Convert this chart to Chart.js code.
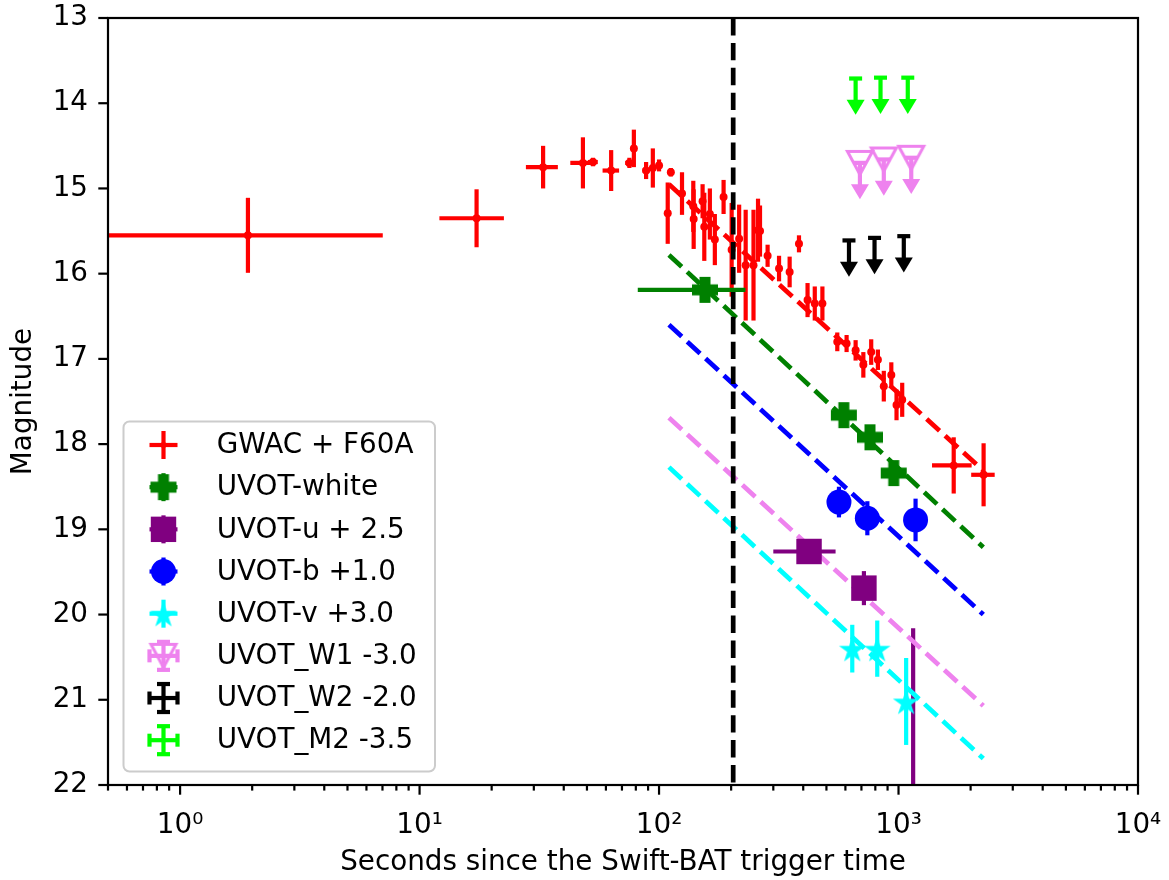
<!DOCTYPE html>
<html>
<head>
<meta charset="utf-8">
<script src="https://cdn.jsdelivr.net/npm/chart.js@4.4.1/dist/chart.umd.min.js"></script>
<style>
html,body{margin:0;padding:0;background:#fff;}
#wrap{width:1169px;height:880px;}
</style>
</head>
<body>
<div id="wrap"><canvas id="c" width="1169" height="880"></canvas></div>
<script>
// ---------------- DATA ----------------
// GWAC + F60A (red): time [s], magnitude, y error, x error
const gwacT    = [1.92, 17.3, 32.8, 48.1, 53, 63.1, 75.2, 78.5, 88.3, 94.2, 100, 112, 108.7, 124.7, 139, 139.5, 152, 154.5, 163, 171, 186, 201, 216, 230, 248, 259, 264, 284, 317, 351, 384, 417, 447, 481, 555, 607, 662, 713, 769, 820, 868, 933, 981, 1036, 1700, 2266];
const gwacMag  = [15.55, 15.35, 14.75, 14.70, 14.69, 14.79, 14.70, 14.53, 14.79, 14.76, 14.73, 14.81, 15.29, 15.06, 15.21, 15.36, 15.15, 15.45, 15.30, 15.60, 15.10, 15.72, 15.59, 15.90, 15.90, 15.49, 15.50, 15.79, 15.94, 15.98, 15.65, 16.31, 16.35, 16.35, 16.80, 16.82, 16.90, 17.07, 16.92, 17.01, 17.32, 17.19, 17.54, 17.48, 18.25, 18.36];
const gwacErr  = [0.44, 0.34, 0.25, 0.30, 0.05, 0.24, 0.06, 0.22, 0.10, 0.23, 0.07, 0.05, 0.36, 0.25, 0.30, 0.35, 0.20, 0.40, 0.30, 0.30, 0.20, 0.55, 0.40, 0.65, 0.65, 0.37, 0.30, 0.13, 0.15, 0.18, 0.10, 0.20, 0.20, 0.20, 0.11, 0.10, 0.12, 0.15, 0.15, 0.12, 0.18, 0.15, 0.18, 0.20, 0.33, 0.37];
const gwacXerr = [5.1, 5.2, 5.0, 5.5, 2.5, 5.0, 3.0, 0, 3.0, 0, 2.0, 0, 0, 0, 0, 0, 0, 0, 0, 0, 0, 0, 0, 0, 0, 0, 0, 0, 0, 0, 0, 0, 0, 0, 0, 0, 0, 0, 0, 0, 0, 0, 0, 0, 320, 255];

// UVOT-white
const whiteT = [155.5, 591, 760, 955];
const whiteMag = [16.19, 17.66, 17.92, 18.34];
const whiteErr = [0.07, 0.08, 0.1, 0.08];
const whiteXerr = [74, 0, 0, 0];

// UVOT-u + 2.5
const uT = [423, 717, 1151];
const uMag = [19.26, 19.69, 23.5];
const uErr = [0.05, 0.2, 3.34];
const uXerr = [123, 0, 0];

// UVOT-b + 1.0
const bT = [564, 741, 1178];
const bMag = [18.68, 18.87, 18.89];
const bErr = [0.18, 0.2, 0.25];

// UVOT-v + 3.0
const vT = [641, 815, 1076];
const vMag = [20.40, 20.40, 21.02];
const vErr = [0.28, 0.33, 0.51];

// Upper limits
const w1T = [690, 868, 1130];
const w1Mag = [14.70, 14.66, 14.64];
const w2T = [621, 794, 1052];
const w2Mag = [15.61, 15.58, 15.56];
const m2T = [662, 841, 1093];
const m2Mag = [13.71, 13.70, 13.70];
const limitLen = 0.25;

// Power-law fits (dashed lines)
const fitT = [110, 2260];
const redFit = [14.95, 18.31];
const greenFit = [15.78, 19.21];
const blueFit = [16.60, 20.00];
const violetFit = [17.69, 21.07];
const cyanFit = [18.27, 21.69];

// BAT trigger reference line
const refT = 204;
const yRange = [13, 22];

// Axis ticks
const xTickValues = [1, 10, 100, 1000, 10000];
const xTickLabels = ['10\u2070', '10\u00B9', '10\u00B2', '10\u00B3', '10\u2074'];
const yTickValues = [13, 14, 15, 16, 17, 18, 19, 20, 21, 22];

const legendLabels = ['GWAC + F60A', 'UVOT-white', 'UVOT-u + 2.5', 'UVOT-b +1.0', 'UVOT-v +3.0', 'UVOT_W1 -3.0', 'UVOT_W2 -2.0', 'UVOT_M2 -3.5'];

// ---------------- STYLE ----------------
const FONT = "'DejaVu Sans', sans-serif";
const FS = 27.8;
const EW = 4.2;   // errorbar width
const CAP = 13;

function mk(size, draw) {
  const c = document.createElement('canvas');
  c.width = size; c.height = size;
  draw(c.getContext('2d'), size / 2);
  return c;
}
const plusP = mk(30, (g, c) => {
  const h = 13, a = 5.5;
  g.fillStyle = 'green';
  g.beginPath();
  g.moveTo(c - a, c - h); g.lineTo(c + a, c - h); g.lineTo(c + a, c - a); g.lineTo(c + h, c - a);
  g.lineTo(c + h, c + a); g.lineTo(c + a, c + a); g.lineTo(c + a, c + h); g.lineTo(c - a, c + h);
  g.lineTo(c - a, c + a); g.lineTo(c - h, c + a); g.lineTo(c - h, c - a); g.lineTo(c - a, c - a);
  g.closePath(); g.fill();
});
const starV = mk(32, (g, c) => {
  g.fillStyle = 'cyan';
  g.beginPath();
  for (let k = 0; k < 10; k++) {
    const r = k % 2 ? 14 * 0.382 : 14;
    const ang = -Math.PI / 2 + k * Math.PI / 5;
    g.lineTo(c + r * Math.cos(ang), c + 1.5 + r * Math.sin(ang));
  }
  g.closePath(); g.fill();
});
const triW1 = mk(32, (g, c) => {
  g.strokeStyle = 'violet'; g.lineWidth = 3; g.lineJoin = 'miter';
  g.beginPath();
  g.moveTo(c - 12.5, c - 11.5); g.lineTo(c + 12.5, c - 11.5); g.lineTo(c, c + 11.5);
  g.closePath(); g.stroke();
});

function pts(T, M) { return T.map((t, i) => ({ x: t, y: M[i] })); }

const dashStyle = { showLine: true, pointRadius: 0, borderWidth: 4.7, borderDash: [17.4, 7.5], fill: false, order: 5, type: 'line' };

const datasets = [
  Object.assign({ data: pts(fitT, redFit), borderColor: 'red' }, dashStyle),
  Object.assign({ data: pts(fitT, greenFit), borderColor: 'green' }, dashStyle),
  Object.assign({ data: pts(fitT, blueFit), borderColor: 'blue' }, dashStyle),
  Object.assign({ data: pts(fitT, violetFit), borderColor: 'violet' }, dashStyle),
  Object.assign({ data: pts(fitT, cyanFit), borderColor: 'cyan' }, dashStyle),
  { label: legendLabels[0], data: pts(gwacT, gwacMag), pointStyle: 'circle', pointRadius: 4, backgroundColor: 'red', borderWidth: 0, order: 2 },
  { label: legendLabels[1], data: pts(whiteT, whiteMag), pointStyle: plusP, pointRadius: 13, order: 2 },
  { label: legendLabels[2], data: pts(uT, uMag), pointStyle: 'rect', pointRadius: 18, backgroundColor: 'purple', borderWidth: 0, order: 2 },
  { label: legendLabels[3], data: pts(bT, bMag), pointStyle: 'circle', pointRadius: 12.5, backgroundColor: 'blue', borderWidth: 0, order: 2 },
  { label: legendLabels[4], data: pts(vT, vMag), pointStyle: starV, pointRadius: 13, order: 2 },
  { label: legendLabels[5], data: pts(w1T, w1Mag), pointStyle: triW1, pointRadius: 13, order: 2 },
  Object.assign({ data: [{ x: refT, y: yRange[0] }, { x: refT, y: yRange[1] }], borderColor: 'black' }, dashStyle, { order: 0 })
];

function seg(ctx, x0, y0, x1, y1) { ctx.beginPath(); ctx.moveTo(x0, y0); ctx.lineTo(x1, y1); ctx.stroke(); }

const errSeries = [
  { t: gwacT, m: gwacMag, ye: gwacErr, xe: gwacXerr, color: 'red' },
  { t: whiteT, m: whiteMag, ye: whiteErr, xe: whiteXerr, color: 'green' },
  { t: uT, m: uMag, ye: uErr, xe: uXerr, color: 'purple' },
  { t: bT, m: bMag, ye: bErr, xe: null, color: 'blue' },
  { t: vT, m: vMag, ye: vErr, xe: null, color: 'cyan' }
];
const limSeries = [
  { t: w1T, m: w1Mag, color: 'violet' },
  { t: w2T, m: w2Mag, color: 'black' },
  { t: m2T, m: m2Mag, color: 'lime' }
];

function drawHead(ctx, px, py, color) {
  ctx.fillStyle = color;
  ctx.beginPath();
  ctx.moveTo(px - 9, py); ctx.lineTo(px + 9, py); ctx.lineTo(px, py + 15);
  ctx.closePath(); ctx.fill();
}

const errPlugin = {
  id: 'errbars',
  beforeDatasetsDraw(chart) {
    const { ctx, chartArea: a, scales: { x, y } } = chart;
    ctx.save();
    ctx.beginPath(); ctx.rect(a.left, a.top, a.right - a.left, a.bottom - a.top); ctx.clip();
    ctx.lineCap = 'butt';
    ctx.lineWidth = EW;
    for (const s of errSeries) {
      ctx.strokeStyle = s.color;
      s.t.forEach((t, i) => {
        const px = x.getPixelForValue(t), py = y.getPixelForValue(s.m[i]);
        const ye = s.ye[i];
        if (ye) seg(ctx, px, y.getPixelForValue(s.m[i] - ye), px, y.getPixelForValue(s.m[i] + ye));
        const xe = s.xe ? s.xe[i] : 0;
        if (xe) {
          const lo = t - xe;
          const x0 = lo > 0 ? x.getPixelForValue(lo) : a.left - 20;
          seg(ctx, x0, py, x.getPixelForValue(t + xe), py);
        }
      });
    }
    for (const s of limSeries) {
      ctx.strokeStyle = s.color;
      s.t.forEach((t, i) => {
        const px = x.getPixelForValue(t), py = y.getPixelForValue(s.m[i]);
        const py2 = y.getPixelForValue(s.m[i] + limitLen);
        seg(ctx, px, py, px, py2 + 2);
        seg(ctx, px - CAP / 2, py, px + CAP / 2, py);
        drawHead(ctx, px, py2, s.color);
      });
    }
    ctx.restore();
  }
};

const framePlugin = {
  id: 'frame',
  afterDatasetsDraw(chart) {
    const { ctx, chartArea: a, scales: { x, y } } = chart;
    ctx.save();
    ctx.strokeStyle = '#000';
    ctx.lineWidth = 2.2;
    ctx.strokeRect(a.left, a.top, a.right - a.left, a.bottom - a.top);
    ctx.lineWidth = 2.2;
    for (let e = -1; e <= 4; e++) {
      for (let k = 1; k <= 9; k++) {
        const v = k * Math.pow(10, e);
        if (v < 0.5 - 1e-9 || v > 1e4 + 1e-6) continue;
        const px = x.getPixelForValue(v);
        const len = k === 1 ? 9.7 : 5.6;
        seg(ctx, px, a.bottom, px, a.bottom + len);
      }
    }
    yTickValues.forEach(v => {
      const py = y.getPixelForValue(v);
      seg(ctx, a.left, py, a.left - 9.7, py);
    });
    ctx.restore();
  }
};

function errHandle(ctx, cx, cy, color, caps) {
  ctx.strokeStyle = color; ctx.lineWidth = EW;
  seg(ctx, cx - 14, cy, cx + 14, cy);
  seg(ctx, cx, cy - 14, cx, cy + 14);
  if (caps) {
    seg(ctx, cx - 14, cy - CAP / 2, cx - 14, cy + CAP / 2);
    seg(ctx, cx + 14, cy - CAP / 2, cx + 14, cy + CAP / 2);
    seg(ctx, cx - CAP / 2, cy - 14, cx + CAP / 2, cy - 14);
    seg(ctx, cx - CAP / 2, cy + 14, cx + CAP / 2, cy + 14);
  }
}

const legendPlugin = {
  id: 'mylegend',
  afterDraw(chart) {
    const ctx = chart.ctx;
    const bx = 123.5, by = 421.5, bw = 311.5, bh = 350, r = 6;
    ctx.save();
    ctx.beginPath();
    ctx.roundRect(bx, by, bw, bh, r);
    ctx.fillStyle = 'rgba(255,255,255,0.8)';
    ctx.fill();
    ctx.strokeStyle = '#cccccc'; ctx.lineWidth = 2;
    ctx.stroke();
    const cx = 163.5, y0 = 445, dy = 42.17;
    ctx.lineCap = 'butt';
    legendLabels.forEach((lab, i) => {
      const cy = y0 + i * dy;
      if (i === 0) { errHandle(ctx, cx, cy, 'red', false); ctx.fillStyle = 'red'; ctx.beginPath(); ctx.arc(cx, cy, 3, 0, 2 * Math.PI); ctx.fill(); }
      if (i === 1) { errHandle(ctx, cx, cy, 'green', false); ctx.drawImage(plusP, cx - 15, cy - 15); }
      if (i === 2) { errHandle(ctx, cx, cy, 'purple', false); ctx.fillStyle = 'purple'; ctx.fillRect(cx - 12.7, cy - 12.7, 25.4, 25.4); }
      if (i === 3) { errHandle(ctx, cx, cy, 'blue', false); ctx.fillStyle = 'blue'; ctx.beginPath(); ctx.arc(cx, cy, 12.5, 0, 2 * Math.PI); ctx.fill(); }
      if (i === 4) { errHandle(ctx, cx, cy, 'cyan', false); ctx.drawImage(starV, cx - 16, cy - 16); }
      if (i === 5) { errHandle(ctx, cx, cy, 'violet', true); ctx.drawImage(triW1, cx - 16, cy - 16); }
      if (i === 6) { errHandle(ctx, cx, cy, 'black', true); }
      if (i === 7) { errHandle(ctx, cx, cy, 'lime', true); }
      ctx.fillStyle = '#000';
      ctx.font = FS + 'px ' + FONT;
      ctx.textBaseline = 'middle';
      ctx.textAlign = 'left';
      ctx.fillText(lab, 216.7, cy + 1);
    });
    ctx.restore();
  }
};

Chart.defaults.color = '#000';
Chart.defaults.font.family = FONT;

new Chart(document.getElementById('c'), {
  type: 'scatter',
  data: { datasets },
  plugins: [errPlugin, framePlugin, legendPlugin],
  options: {
    responsive: false,
    animation: false,
    devicePixelRatio: 1,
    events: [],
    layout: { padding: { left: 0, right: 31, top: 18, bottom: 0 } },
    plugins: { legend: { display: false }, tooltip: { enabled: false } },
    scales: {
      x: {
        type: 'logarithmic',
        min: 0.5, max: 1e4,
        grid: { display: false, drawTicks: false },
        border: { display: false },
        afterBuildTicks: s => { s.ticks = xTickValues.map(v => ({ value: v })); },
        afterFit: s => { s.height = 95; s.paddingLeft = 0; s.paddingRight = 0; },
        ticks: {
          autoSkip: false, maxRotation: 0, padding: 24,
          font: { size: FS, family: FONT },
          callback: (v, i) => xTickLabels[i]
        },
        title: { display: true, text: 'Seconds since the Swift-BAT trigger time', font: { size: FS, family: FONT }, padding: { top: 0, bottom: 1 } }
      },
      y: {
        type: 'linear',
        reverse: true,
        min: yRange[0], max: yRange[1],
        grid: { display: false, drawTicks: false },
        border: { display: false },
        afterBuildTicks: s => { s.ticks = yTickValues.map(v => ({ value: v })); },
        afterFit: s => { s.width = 108; s.paddingTop = 0; s.paddingBottom = 0; },
        ticks: { padding: 20, font: { size: FS, family: FONT }, callback: v => String(v) },
        title: { display: true, text: 'Magnitude', font: { size: FS, family: FONT }, padding: { top: 7, bottom: 0 } }
      }
    }
  }
});
</script>
</body>
</html>
